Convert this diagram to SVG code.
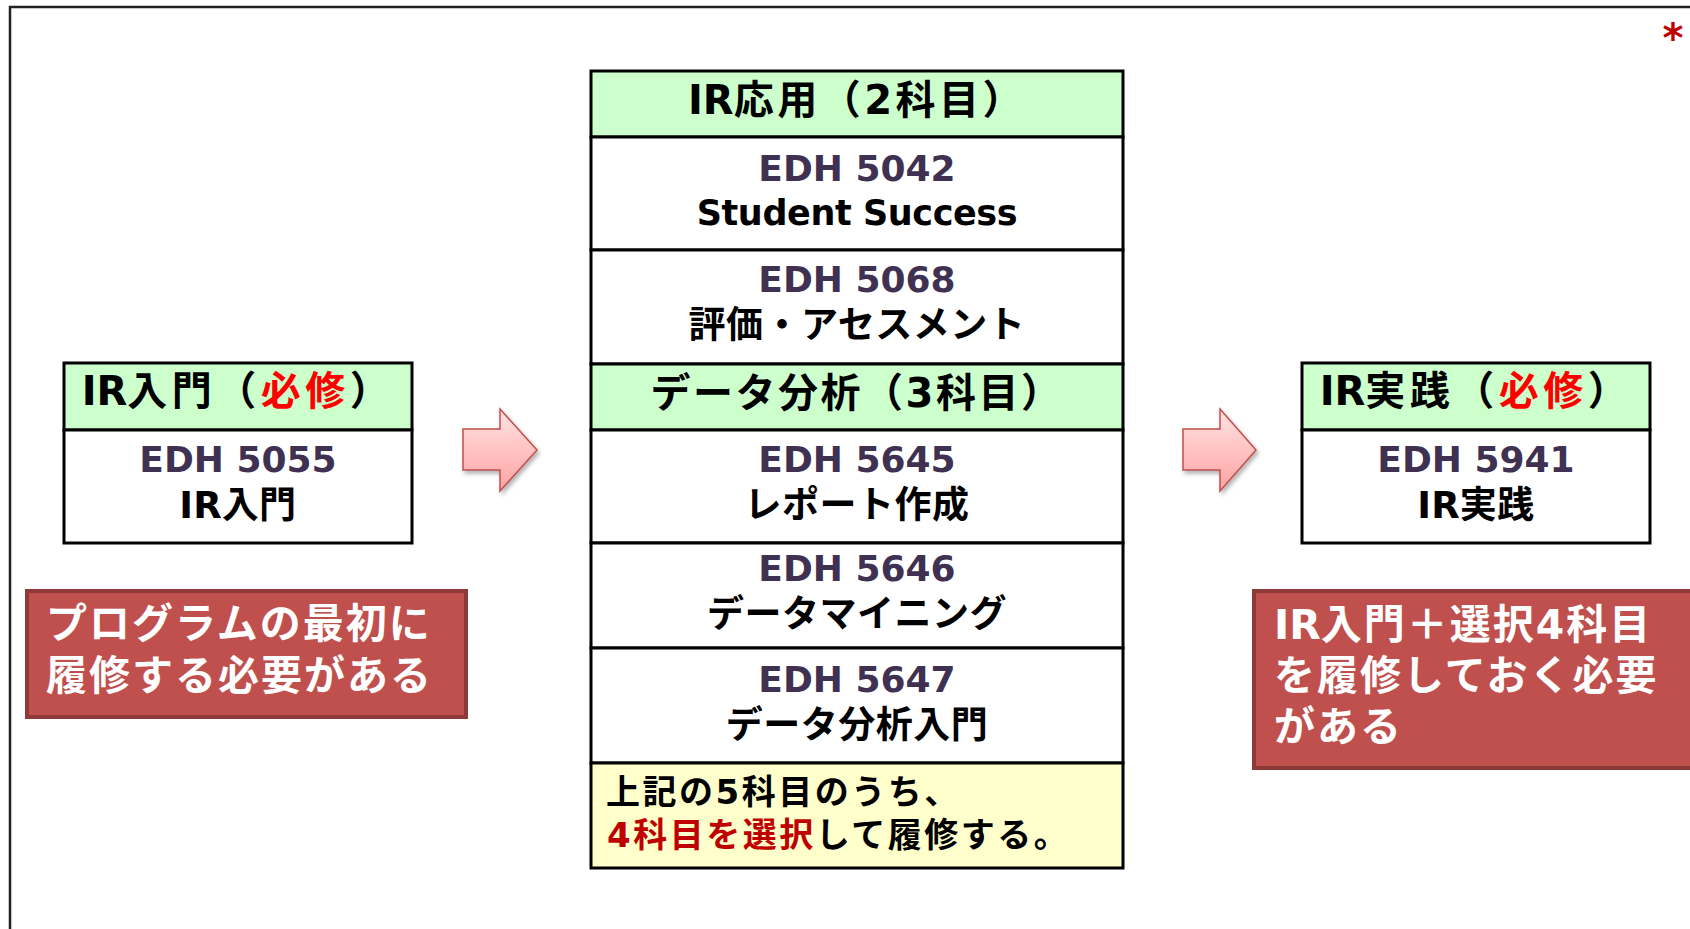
<svg xmlns="http://www.w3.org/2000/svg" width="1690" height="929" viewBox="0 0 1690 929">
<defs>
<linearGradient id="pink" x1="0" y1="0" x2="0" y2="1">
<stop offset="0" stop-color="#FFE3E3"/>
<stop offset="1" stop-color="#FFA3A3"/>
</linearGradient>
<filter id="sh" x="-20%" y="-20%" width="150%" height="150%">
<feDropShadow dx="2" dy="3" stdDeviation="2" flood-color="#000" flood-opacity="0.3"/>
</filter>
<style>
.cell{stroke:#000;stroke-width:3;}
.green{fill:#CCFFCC;}
.white{fill:#FFFFFF;}
.yellow{fill:#FFFFCC;}
.redbox{fill:#C0504D;stroke:#8E3A38;stroke-width:4;}
.arrow{fill:url(#pink);stroke:#C0504D;stroke-width:1.5;filter:url(#sh);}
text{font-family:"DejaVu Sans","Noto Sans CJK JP",sans-serif;font-weight:bold;}
.hd{font-size:40px;fill:#000;text-anchor:middle;}
.code{font-size:36px;fill:#3F3151;text-anchor:middle;}
.nm{font-size:37px;fill:#000;text-anchor:middle;letter-spacing:0.5px;}
.en{font-size:35px;fill:#000;text-anchor:middle;letter-spacing:-0.4px;}
.note{font-size:34px;fill:#000;letter-spacing:2.5px;}
.wt{font-size:41px;fill:#FFFFFF;letter-spacing:2px;}
.req{fill:#FF0000;}
.sel{fill:#C00000;}
.tight{letter-spacing:0px;}
</style>
</defs>
<rect x="0" y="0" width="1690" height="929" fill="#FFFFFF"/>
<path d="M10,929 V7 H1690" fill="none" stroke="#222" stroke-width="2.5"/>
<text x="1673" y="52" style="font-family:'DejaVu Sans',sans-serif;font-size:40px;fill:#C00000;text-anchor:middle;">*</text>

<g id="ir-oyo-header">
<rect class="cell green" x="591" y="71" width="532" height="66"/>
<text class="hd" x="857" y="113.5" style="letter-spacing:3.5px"><tspan class="tight">IR</tspan>応用（2科目）</text>
</g>
<g id="edh5042">
<rect class="cell white" x="591" y="137" width="532" height="113"/>
<text class="code" x="857" y="181">EDH 5042</text>
<text class="en" x="857" y="225">Student Success</text>
</g>
<g id="edh5068">
<rect class="cell white" x="591" y="250" width="532" height="114"/>
<text class="code" x="857" y="292">EDH 5068</text>
<text class="nm" x="857" y="338">評価・アセスメント</text>
</g>
<g id="data-header">
<rect class="cell green" x="591" y="364" width="532" height="66"/>
<text class="hd" x="857" y="406.5" style="letter-spacing:2.5px">データ分析（3科目）</text>
</g>
<g id="edh5645">
<rect class="cell white" x="591" y="430" width="532" height="113"/>
<text class="code" x="857" y="472">EDH 5645</text>
<text class="nm" x="857" y="518">レポート作成</text>
</g>
<g id="edh5646">
<rect class="cell white" x="591" y="543" width="532" height="105"/>
<text class="code" x="857" y="581">EDH 5646</text>
<text class="nm" x="857" y="627">データマイニング</text>
</g>
<g id="edh5647">
<rect class="cell white" x="591" y="648" width="532" height="115"/>
<text class="code" x="857" y="692">EDH 5647</text>
<text class="nm" x="857" y="738">データ分析入門</text>
</g>
<g id="select-note">
<rect class="cell yellow" x="591" y="763" width="532" height="105"/>
<text class="note" x="606" y="804">上記の5科目のうち、</text>
<text class="note" x="607" y="847"><tspan class="sel">4科目を選択</tspan>して履修する。</text>
</g>

<g id="ir-nyumon">
<rect class="cell green" x="64" y="363" width="348" height="67"/>
<text class="hd" x="238" y="404.5" style="letter-spacing:4.5px"><tspan class="tight">IR</tspan>入門（<tspan class="req">必修</tspan>）</text>
<rect class="cell white" x="64" y="430" width="348" height="113"/>
<text class="code" x="238" y="472">EDH 5055</text>
<text class="nm" x="238" y="518"><tspan class="tight">IR</tspan>入門</text>
</g>
<g id="ir-jissen">
<rect class="cell green" x="1302" y="363" width="348" height="67"/>
<text class="hd" x="1476" y="404.5" style="letter-spacing:4.5px"><tspan class="tight">IR</tspan>実践（<tspan class="req">必修</tspan>）</text>
<rect class="cell white" x="1302" y="430" width="348" height="113"/>
<text class="code" x="1476" y="472">EDH 5941</text>
<text class="nm" x="1476" y="518"><tspan class="tight">IR</tspan>実践</text>
</g>

<g id="note-left">
<rect class="redbox" x="27" y="591" width="439" height="126"/>
<text class="wt" x="46" y="638">プログラムの最初に</text>
<text class="wt" x="46" y="690">履修する必要がある</text>
</g>
<g id="note-right">
<rect class="redbox" x="1254" y="591" width="460" height="177"/>
<text class="wt" x="1274" y="639"><tspan class="tight">IR</tspan>入門＋選択4科目</text>
<text class="wt" x="1274" y="690">を履修しておく必要</text>
<text class="wt" x="1274" y="741">がある</text>
</g>

<g id="connectors">
<path class="arrow" d="M463,429 H500 V409 L537,450 L500,491 V470 H463 Z"/>
<path class="arrow" d="M1183,429 H1220 V409 L1256,450 L1220,491 V470 H1183 Z"/>
</g>
</svg>
